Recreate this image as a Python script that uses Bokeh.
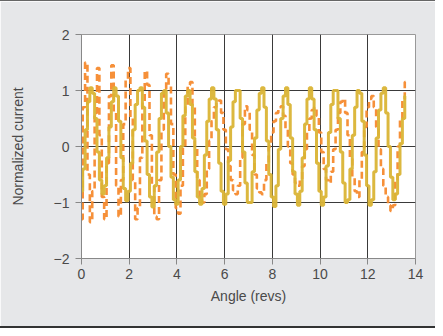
from bokeh.plotting import figure
from bokeh.embed import file_html
from bokeh.resources import INLINE
from bokeh.models import ColumnDataSource, FixedTicker, Range1d

# angle samples (revs)
angle = [round(i * 0.1, 1) for i in range(137)]

yellow = [
    -0.8, -0.4, 0.3, 0.8, 1.05, 0.95, 0.5, -0.1, -0.6, -0.85,
    -0.7, -0.2, 0.35, 0.8, 1.05, 0.9, 0.45, -0.2, -0.75, -0.97,
    -0.8, -0.3, 0.3, 0.75, 1.0, 1.05, 0.7, 0.1, -0.5, -0.9,
    -1.08, -0.7, -0.1, 0.5, 0.95, 1.0, 0.6, 0.0, -0.55, -0.95,
    -1.03, -0.6, 0.0, 0.55, 0.9, 1.0, 0.75, 0.15, -0.45, -0.9,
    -1.03, -0.75, -0.15, 0.45, 0.85, 1.05, 0.85, 0.3, -0.3, -0.8,
    -1.03, -0.85, -0.25, 0.35, 0.8, 1.0, 1.0, 0.5, -0.1, -0.65,
    -1.0, -1.0, -0.45, 0.15, 0.65, 0.95, 1.05, 0.7, 0.1, -0.5,
    -0.9, -1.07, -0.7, -0.05, 0.5, 0.9, 1.05, 0.75, 0.15, -0.45,
    -0.85, -1.05, -0.8, -0.2, 0.4, 0.85, 1.05, 0.85, 0.3, -0.3,
    -0.8, -1.05, -0.9, -0.35, 0.25, 0.75, 1.0, 1.0, 0.5, -0.1,
    -0.65, -1.0, -0.95, -0.4, 0.2, 0.7, 1.0, 0.95, 0.45, -0.15,
    -0.7, -1.05, -0.95, -0.45, 0.15, 0.65, 0.95, 1.05, 0.6, 0.0,
    -0.55, -0.95, -0.85, -0.5, 0.05, 0.5, 0.9,
]

orange = [
    -1.3, 0.7, 1.5, -0.5, -1.35, -0.8, 0.6, 1.4, 0.2, -0.9,
    -1.3, -0.3, 0.9, 1.45, 0.6, -0.7, -1.25, -0.6, 0.4, 1.2,
    1.4, 0.5, -0.6, -1.3, -1.1, -0.2, 0.8, 1.35, 1.1, 0.2,
    -0.7, -1.25, -1.3, -0.6, 0.3, 1.0, 1.3, 1.1, 0.4, -0.5,
    -1.1, -1.2, -0.7, 0.0, 0.7, 1.1, 1.15, 0.7, 0.0, -0.6,
    -0.95, -1.0, -0.85, -0.4, 0.1, 0.45, 0.7, 0.8, 0.82, 0.6,
    0.3, -0.05, -0.35, -0.6, -0.78, -0.85, -0.7, -0.2, 0.4, 0.72,
    0.65, 0.3, -0.15, -0.5, -0.75, -0.82, -0.85, -0.6, -0.3, 0.0,
    0.25, 0.45, 0.6, 0.7, 0.72, 0.55, 0.3, 0.0, -0.3, -0.5,
    -0.65, -0.7, -0.6, -0.35, -0.05, 0.25, 0.5, 0.65, 0.7, 0.55,
    0.25, -0.1, -0.4, -0.6, -0.65, -0.45, -0.05, 0.3, 0.6, 0.8,
    0.85, 0.6, 0.2, -0.2, -0.55, -0.8, -0.9, -0.6, -0.1, 0.35,
    0.7, 0.85, 0.9, 0.7, 0.35, -0.05, -0.4, -0.7, -0.9, -1.05,
    -1.15, -1.05, -0.6, 0.0, 0.5, 0.85, 1.15,
]

x_ticks = [0, 2, 4, 6, 8, 10, 12, 14]
y_ticks = [-2, -1, 0, 1, 2]

src = ColumnDataSource(dict(angle=angle, yellow=yellow, orange=orange))

FONT = "Liberation Sans"
BG = "#e6e7e9"

p = figure(
    width=435, height=328,
    output_backend="svg", toolbar_location=None,
    x_range=Range1d(0, 14), y_range=Range1d(-2, 2),
    min_border_left=81, min_border_right=20,
    min_border_top=33, min_border_bottom=71,
    background_fill_color="white",
    border_fill_color=BG,
)
p.styles = {"border-top": "1px solid #666", "border-bottom": "2px solid #333"}

p.step("angle", "orange", source=src, mode="center", line_color="#f58a2e",
       line_width=2.6, line_dash="7 4", line_alpha=0.95)
p.step("angle", "yellow", source=src, mode="center", line_color="#dab435",
       line_width=3, line_alpha=0.95)

p.outline_line_color = "#999999"
p.outline_line_width = 1

p.xaxis.ticker = FixedTicker(ticks=x_ticks)
p.yaxis.ticker = FixedTicker(ticks=y_ticks)
p.xgrid.ticker = FixedTicker(ticks=x_ticks)
p.ygrid.ticker = FixedTicker(ticks=y_ticks)
p.grid.grid_line_color = "#3a3a3a"
p.grid.grid_line_width = 1

for ax in (p.xaxis[0], p.yaxis[0]):
    ax.axis_line_color = "#888888"
    ax.major_tick_line_color = "#888888"
    ax.major_tick_out = 6
    ax.major_tick_in = 0
    ax.minor_tick_line_color = None
    ax.major_label_text_font = FONT
    ax.major_label_text_font_size = "14px"
    ax.major_label_text_color = "#4a4a4a"
    ax.axis_label_text_font = FONT
    ax.axis_label_text_font_size = "14px"
    ax.axis_label_text_font_style = "normal"
    ax.axis_label_text_color = "#4a4a4a"

p.xaxis.axis_label = "Angle (revs)"
p.yaxis.axis_label = "Normalized current"
p.xaxis.major_label_standoff = 4
p.yaxis.major_label_standoff = 6
p.xaxis.axis_label_standoff = 6
p.yaxis.axis_label_standoff = 25

open("out.html", "w").write(file_html(p, INLINE))
